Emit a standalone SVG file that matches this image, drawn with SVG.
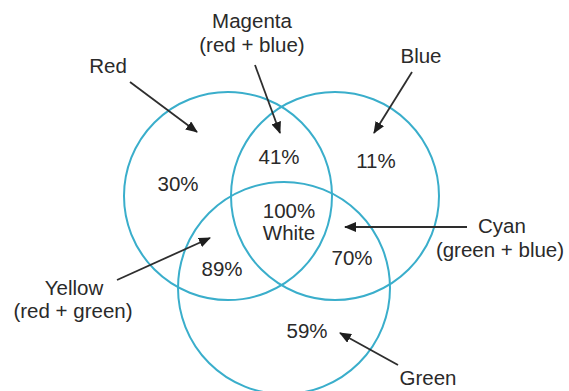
<svg xmlns="http://www.w3.org/2000/svg" width="569" height="391" viewBox="0 0 569 391">
  <style>
    .c { fill: none; stroke: #3aaecb; stroke-width: 2; }
    .t { font-family: "Liberation Sans", Arial, sans-serif; font-size: 20.5px; fill: #2a2a2a; text-anchor: middle; }
    .a { stroke: #2e2e2e; stroke-width: 1.8; fill: none; marker-end: url(#ah); }
  </style>
  <defs>
    <marker id="ah" viewBox="0 0 12 10" refX="11" refY="5" markerWidth="12" markerHeight="10" markerUnits="userSpaceOnUse" orient="auto">
      <path d="M0,0 L12,5 L0,10 Z" fill="#1e1e1e"/>
    </marker>
  </defs>
  <rect width="569" height="391" fill="#ffffff"/>
  <g id="circle-red"><circle class="c" cx="228" cy="196" r="104"/></g>
  <g id="circle-blue"><circle class="c" cx="335" cy="196" r="104"/></g>
  <g id="circle-green"><circle class="c" cx="284" cy="288" r="106"/></g>

  <g id="connectors">
    <line class="a" x1="130" y1="82" x2="197" y2="132"/>
    <line class="a" x1="255" y1="65" x2="280" y2="133"/>
    <line class="a" x1="412" y1="72" x2="374" y2="133"/>
    <line class="a" x1="467" y1="227" x2="345" y2="227"/>
    <line class="a" x1="117" y1="280" x2="210" y2="238"/>
    <line class="a" x1="398" y1="365" x2="340" y2="333"/>
  </g>

  <g id="label-magenta"><text class="t" x="252" y="28">Magenta</text><text class="t" x="252" y="52">(red + blue)</text></g>
  <g id="label-red"><text class="t" x="108" y="73">Red</text></g>
  <g id="label-blue"><text class="t" x="421" y="63">Blue</text></g>
  <g id="label-cyan"><text class="t" x="502" y="233">Cyan</text><text class="t" x="500" y="257">(green + blue)</text></g>
  <g id="label-yellow"><text class="t" x="74" y="295">Yellow</text><text class="t" x="73" y="318">(red + green)</text></g>
  <g id="label-green"><text class="t" x="428" y="385">Green</text></g>

  <g id="value-red"><text class="t" x="178" y="191">30%</text></g>
  <g id="value-magenta"><text class="t" x="279" y="164">41%</text></g>
  <g id="value-blue"><text class="t" x="376" y="168">11%</text></g>
  <g id="value-white"><text class="t" x="289" y="218">100%</text><text class="t" x="289" y="240">White</text></g>
  <g id="value-cyan"><text class="t" x="352" y="265">70%</text></g>
  <g id="value-yellow"><text class="t" x="222" y="276">89%</text></g>
  <g id="value-green"><text class="t" x="307" y="338">59%</text></g>
</svg>
